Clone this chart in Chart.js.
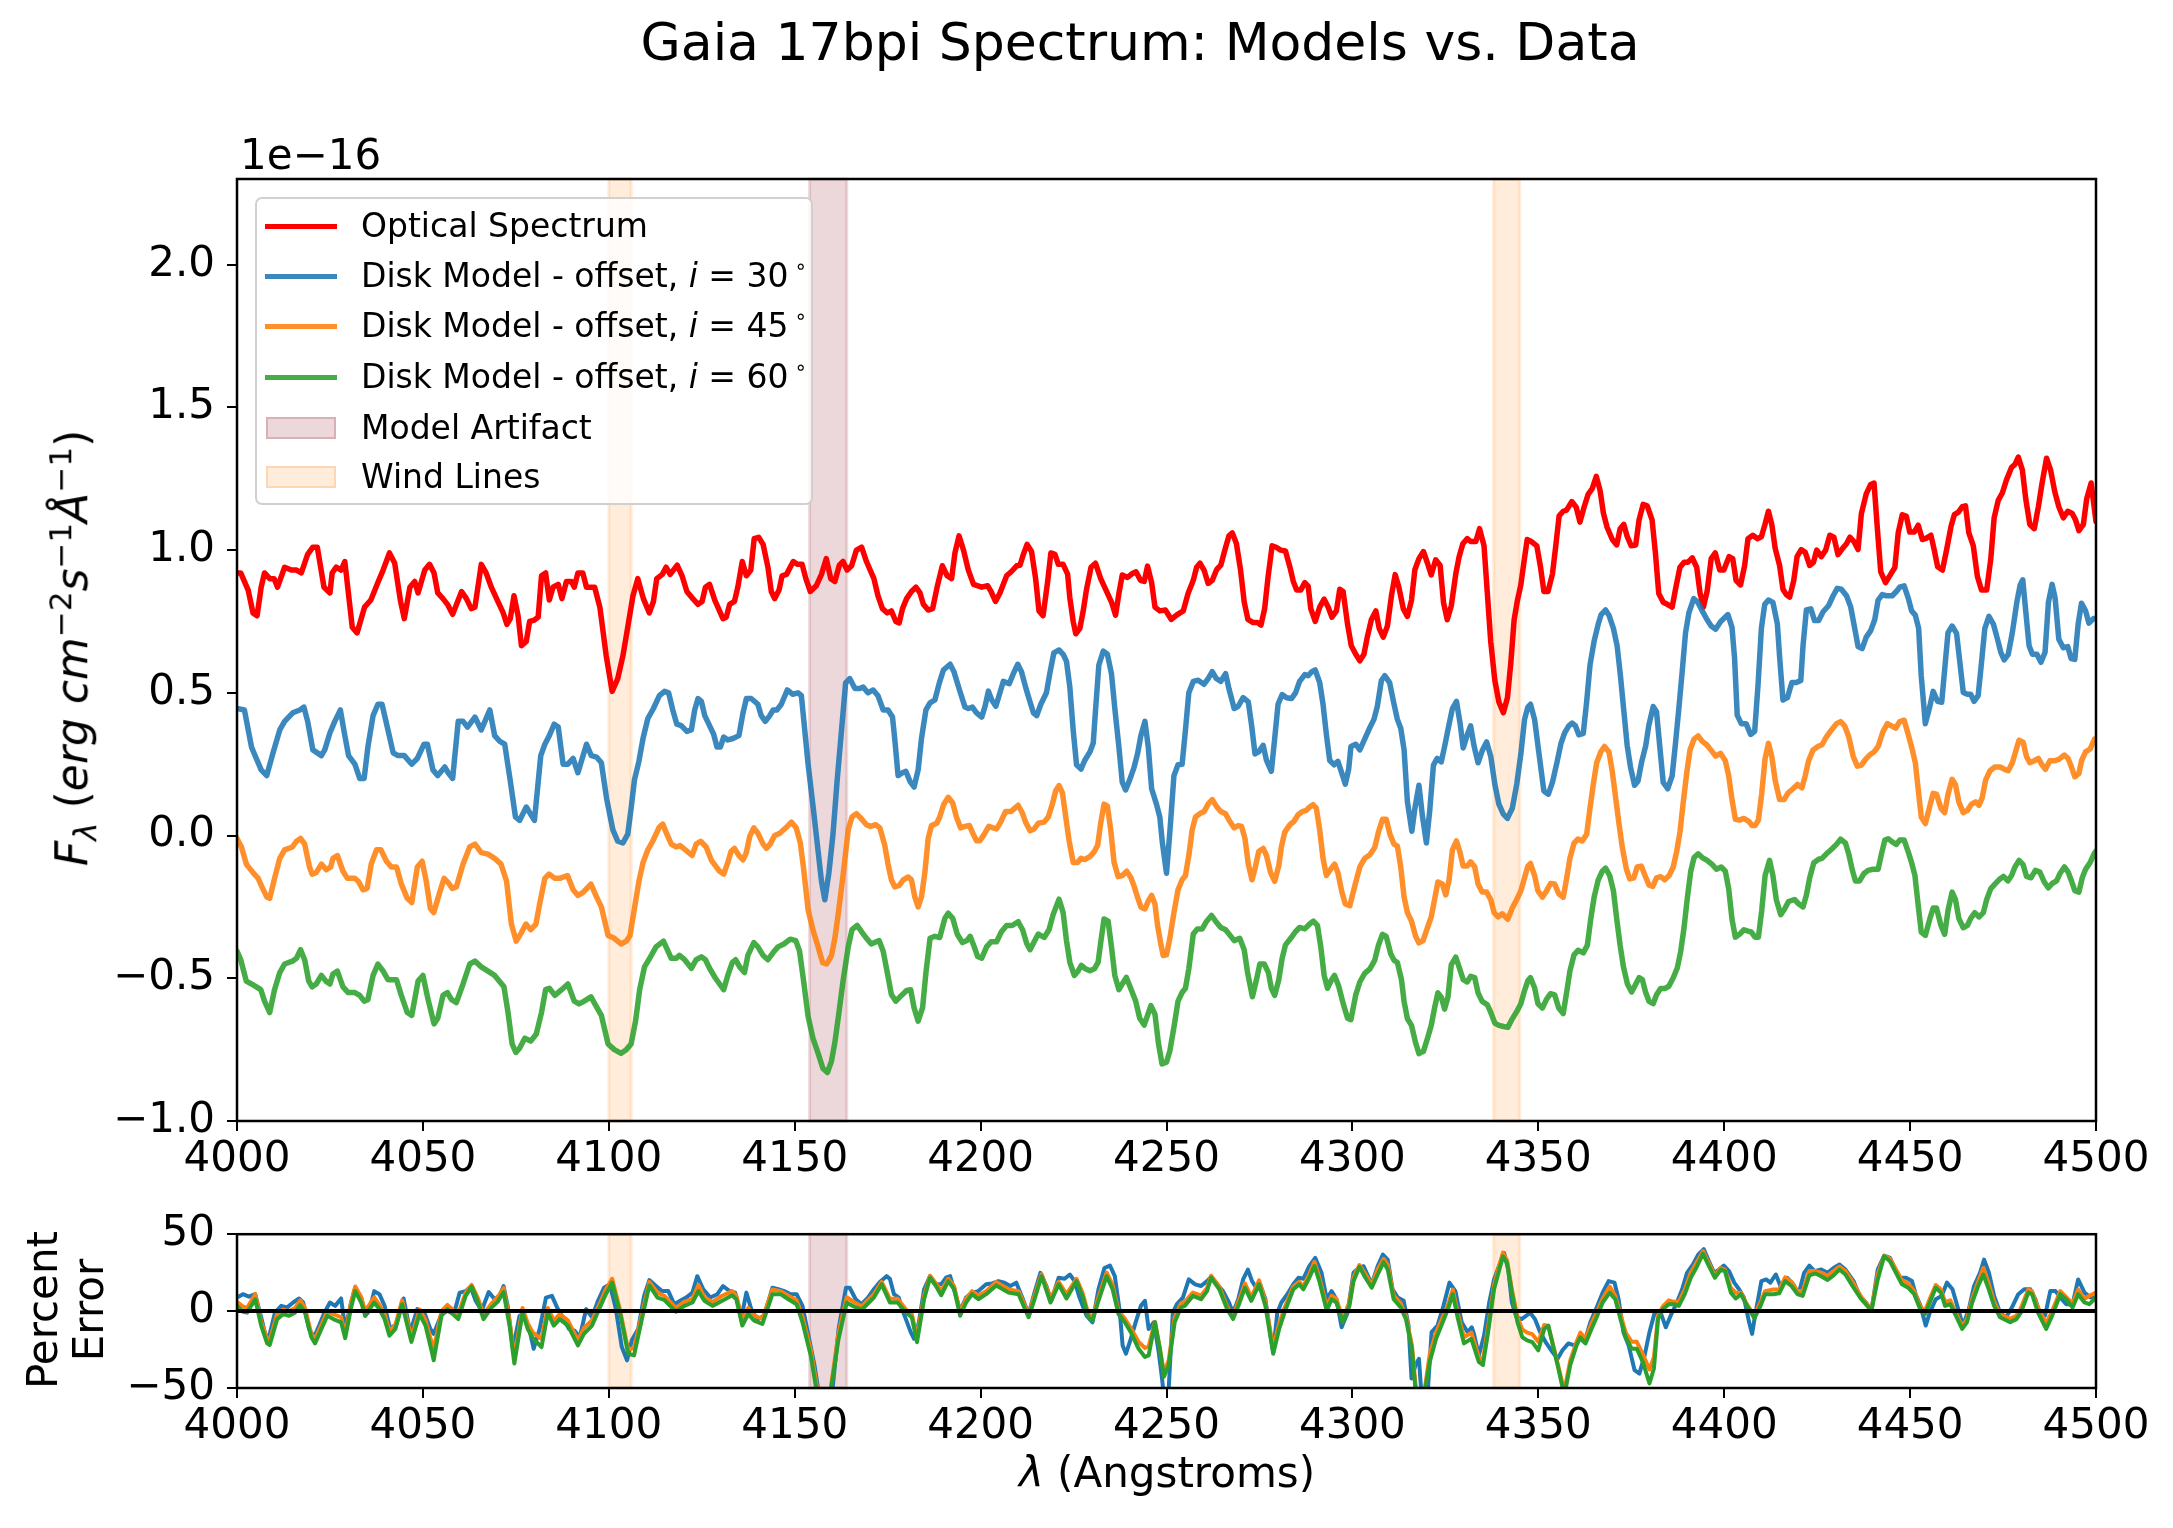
<!DOCTYPE html>
<html>
<head>
<meta charset="utf-8">
<script src="https://cdn.jsdelivr.net/npm/chart.js@4.4.0/dist/chart.umd.min.js"></script>
<style>
  body { margin: 0; background: #fff; font-family: "DejaVu Sans", sans-serif; }
  #wrap { position: relative; width: 2173px; height: 1528px; overflow: hidden; background: #fff; }
  canvas { position: absolute; left: 0; }
  .lbl { position: absolute; white-space: nowrap; color: #000; }
  #legend { position: absolute; left: 255px; top: 197px; width: 558px; height: 308px; box-sizing: border-box;
            border: 2px solid #d0d0d0; border-radius: 7px; background: rgba(255,255,255,0.8); font-size: 33px; }
  .row { position: absolute; left: 0; height: 40px; width: 100%; }
  .swl { position: absolute; left: 8px; width: 72px; height: 5px; top: 18px; }
  .swp { position: absolute; left: 9px; width: 70px; height: 22px; top: 9px; box-sizing: border-box; border-width: 2px; border-style: solid; }
  .txt { position: absolute; left: 104px; top: 0; line-height: 40px; }
  .deg { position: relative; top: -14px; font-size: 20px; margin-left: 6px; }
  .sp { font-size: 31px; }
</style>
</head>
<body>
<div id="wrap">
  <canvas id="fluxChart" width="2173" height="1191" style="top:0"></canvas>
  <canvas id="errChart" width="2173" height="261" style="top:1197px"></canvas>

  <div class="lbl" style="left:1140px;top:16px;font-size:52px;line-height:52px;transform:translateX(-50%)">Gaia 17bpi Spectrum: Models vs. Data</div>
  <div class="lbl" style="left:240px;top:134px;font-size:42px;line-height:42px">1e&minus;16</div>
  <div class="lbl" style="left:73px;top:648px;font-size:44px;line-height:44px;transform:translate(-50%,-50%) rotate(-90deg)">
    <i>F</i><sub class="sp"><i>&lambda;</i></sub> (<i>erg cm</i><sup class="sp">&minus;2</sup><i>s</i><sup class="sp">&minus;1</sup><i>&Aring;</i><sup class="sp">&minus;1</sup>)
  </div>
  <div class="lbl" style="left:66px;top:1310px;font-size:42px;line-height:46px;text-align:center;transform:translate(-50%,-50%) rotate(-90deg)">Percent<br>Error</div>
  <div class="lbl" style="left:1167px;top:1452px;font-size:42px;line-height:42px;transform:translateX(-50%)"><i>&lambda;</i> (Angstroms)</div>

  <div id="legend">
    <div class="row" style="top:7px"><div class="swl" style="background:#ff0000"></div><div class="txt">Optical Spectrum</div></div>
    <div class="row" style="top:57px"><div class="swl" style="background:rgba(31,119,180,0.88)"></div><div class="txt">Disk Model - offset, <i>i</i> = 30<span class="deg">&#8728;</span></div></div>
    <div class="row" style="top:107px"><div class="swl" style="background:rgba(255,127,14,0.88)"></div><div class="txt">Disk Model - offset, <i>i</i> = 45<span class="deg">&#8728;</span></div></div>
    <div class="row" style="top:158px"><div class="swl" style="background:rgba(44,160,44,0.88)"></div><div class="txt">Disk Model - offset, <i>i</i> = 60<span class="deg">&#8728;</span></div></div>
    <div class="row" style="top:209px"><div class="swp" style="background:rgba(150,40,50,0.18);border-color:rgba(150,40,50,0.22)"></div><div class="txt">Model Artifact</div></div>
    <div class="row" style="top:258px"><div class="swp" style="background:rgba(255,127,14,0.15);border-color:rgba(255,127,14,0.2)"></div><div class="txt">Wind Lines</div></div>
  </div>
</div>

<script>
// wavelength (Angstrom), flux (1e-16 erg cm^-2 s^-1 A^-1)
const opticalSpectrum = [
  [4000,.92],[4001,.92],[4003,.86],[4004.3,.78],[4005.4,.77],[4006.5,.87],[4007.4,.92],[4008.8,.90],[4010,.90],[4010.9,.87],
  [4012.8,.94],[4014.6,.93],[4016,.93],[4017.3,.92],[4019,.985],[4020.4,1.01],[4021.6,1.01],[4023.4,.87],[4025,.85],[4025.6,.92],
  [4026.7,.94],[4028,.93],[4029,.96],[4031,.73],[4032.3,.71],[4034.3,.80],[4036,.825],[4038,.89],[4039.3,.93],[4041,.99],
  [4042.4,.955],[4044,.82],[4045,.76],[4046.5,.87],[4047.8,.89],[4048.7,.85],[4050.5,.93],[4051.8,.95],[4053,.92],[4054,.85],
  [4055.4,.83],[4056.6,.81],[4058,.775],[4060.4,.855],[4061.7,.83],[4063,.795],[4064,.80],[4065.7,.95],[4067,.92],[4068.4,.87],
  [4070,.825],[4071.6,.78],[4072.6,.74],[4073.5,.76],[4074.5,.84],[4075.6,.77],[4076.5,.665],[4077.8,.68],[4078.7,.75],[4080,.755],
  [4081,.765],[4081.9,.91],[4083,.92],[4084,.825],[4085,.87],[4086.4,.88],[4087.4,.83],[4088.6,.89],[4090,.89],[4090.7,.87],
  [4091.7,.92],[4093,.92],[4094,.87],[4095.3,.87],[4096.2,.87],[4097.6,.80],[4099.3,.63],[4100.9,.505],[4102.4,.55],[4103.8,.63],
  [4105.1,.73],[4106.5,.84],[4107.8,.90],[4109.3,.83],[4110.9,.78],[4112,.82],[4112.9,.90],[4114.4,.915],[4115.4,.94],[4116.5,.915],
  [4118.4,.947],[4119.7,.91],[4121,.855],[4122.6,.83],[4124,.81],[4125.1,.82],[4126,.87],[4127.1,.88],[4128.5,.825],[4130.7,.76],
  [4131.6,.765],[4132.5,.81],[4133.8,.82],[4134.7,.87],[4135.9,.96],[4137,.91],[4138.2,.93],[4139.1,1.04],[4140.3,1.045],[4141.5,1.02],
  [4142.8,.94],[4143.7,.855],[4144.6,.83],[4145.8,.86],[4146.6,.91],[4147.8,.915],[4149.6,.96],[4150.7,.95],[4152,.95],[4153,.90],
  [4154.2,.855],[4155.8,.875],[4157.2,.915],[4158.5,.97],[4159.7,.90],[4160.8,.89],[4162,.947],[4163,.96],[4164.1,.93],[4165.3,.945],
  [4166.6,1.0],[4168,1.01],[4169.3,.96],[4171.3,.90],[4172.4,.84],[4173.6,.795],[4174.9,.78],[4176,.787],[4177.2,.75],[4178.1,.745],
  [4179,.795],[4180.1,.83],[4181.4,.855],[4182.6,.87],[4183.7,.85],[4184.6,.81],[4185.9,.79],[4187.1,.795],[4188.3,.87],[4189.7,.945],
  [4191,.91],[4192.2,.90],[4193.1,.99],[4194.2,1.05],[4195.4,1.0],[4196.7,.93],[4198.1,.88],[4200.3,.87],[4201.9,.875],[4202.8,.855],
  [4204,.82],[4205.2,.85],[4207,.91],[4208.3,.925],[4209.7,.945],[4210.6,.947],[4211.5,.985],[4212.5,1.02],[4213.7,.995],[4214.8,.90],
  [4215.7,.787],[4216.8,.77],[4218,.886],[4218.9,.99],[4220,.985],[4220.9,.95],[4222.2,.95],[4223.4,.916],[4224,.833],[4224.9,.75],
  [4225.6,.707],[4226.7,.726],[4227.6,.787],[4228.5,.863],[4229.7,.94],[4230.9,.954],[4232.3,.90],[4233.6,.863],[4235.2,.818],[4236.3,.772],
  [4237.2,.848],[4238.1,.913],[4239.5,.904],[4240.6,.916],[4241.8,.924],[4243,.894],[4244,.89],[4244.9,.944],[4246,.886],[4246.9,.80],
  [4248.2,.787],[4249.7,.79],[4251.3,.757],[4252.7,.772],[4254.5,.787],[4255.8,.848],[4257.2,.894],[4258.1,.94],[4259,.954],[4260.1,.93],
  [4261.2,.883],[4262.3,.894],[4263.5,.932],[4264.6,.947],[4265.7,1.0],[4266.8,1.05],[4267.7,1.06],[4268.8,1.023],[4269.9,.932],[4270.9,.818],
  [4271.9,.757],[4273.3,.746],[4274.5,.746],[4275.4,.737],[4276.4,.795],[4277.3,.904],[4278.4,1.015],[4279.5,1.01],[4280.7,1.0],[4282,.997],
  [4283.2,.94],[4284.1,.89],[4285,.86],[4286.1,.86],[4287.2,.886],[4288.1,.874],[4288.8,.795],[4290,.75],[4291.2,.80],[4292.4,.828],
  [4293.5,.80],[4294.5,.765],[4295.7,.787],[4296.6,.863],[4297.5,.855],[4298.7,.74],[4299.7,.665],[4300.9,.635],[4302,.612],[4303.1,.635],
  [4304,.695],[4305.1,.756],[4306.3,.787],[4307.2,.726],[4308.3,.695],[4309.4,.733],[4310.5,.84],[4311.5,.914],[4312.5,.87],[4313.7,.794],
  [4314.8,.768],[4315.9,.825],[4316.8,.931],[4317.9,.97],[4319.1,.995],[4320.2,.954],[4321.2,.913],[4322.4,.966],[4323.6,.946],[4324.5,.817],
  [4325.5,.756],[4326.6,.805],[4327.8,.916],[4328.7,.977],[4329.7,1.022],[4330.9,1.04],[4331.8,1.03],[4333.2,1.03],[4334.2,1.075],[4335.4,1.015],
  [4336.3,.848],[4337.2,.68],[4338.3,.544],[4339.4,.468],[4340.6,.43],[4341.7,.483],[4342.6,.604],[4343.5,.756],[4344.4,.825],[4345.3,.878],
  [4346.1,.954],[4347,1.037],[4348.1,1.03],[4349.6,1.015],[4350.6,.94],[4351.5,.855],[4352.6,.855],[4353.8,.916],[4354.7,1.015],[4355.6,1.12],
  [4356.7,1.136],[4357.6,1.14],[4359,1.17],[4360.2,1.15],[4361.2,1.098],[4362.3,1.15],[4363.4,1.195],[4364.5,1.215],[4365.6,1.258],[4366.6,1.21],
  [4367.5,1.13],[4368.5,1.08],[4369.9,1.037],[4371.1,1.018],[4372,1.075],[4373,1.09],[4373.9,1.048],[4375,1.015],[4376.2,1.018],[4377.1,1.106],
  [4378.2,1.16],[4379.3,1.155],[4380.6,1.106],[4381.5,.99],[4382.4,.848],[4383.6,.817],[4384.7,.81],[4386,.80],[4386.9,.863],[4388.1,.94],
  [4389.2,.957],[4390.2,.957],[4391.4,.973],[4392.6,.94],[4393.5,.85],[4394.4,.80],[4395.4,.855],[4396.5,.97],[4397.6,.99],[4398.8,.93],
  [4399.9,.93],[4401.3,.977],[4402.3,.97],[4403.2,.893],[4404.4,.878],[4405.5,.946],[4406.4,1.04],[4407.7,1.052],[4408.9,1.04],[4410,1.047],
  [4410.9,1.087],[4411.9,1.136],[4412.8,1.09],[4413.7,1.007],[4414.9,.946],[4415.8,.863],[4416.7,.844],[4417.6,.835],[4418.7,.893],[4419.6,.977],
  [4420.7,1.002],[4421.8,.992],[4423,.946],[4424,.957],[4424.9,1.0],[4426.1,.977],[4427.3,1.0],[4428.4,1.052],[4429.5,1.045],[4430.6,.984],
  [4431.9,1.007],[4432.9,1.022],[4433.8,1.045],[4434.9,1.03],[4436,1.002],[4436.9,1.128],[4438.2,1.197],[4439.4,1.23],[4440.3,1.235],[4441.2,1.075],
  [4442.1,.924],[4443.4,.886],[4444.8,.916],[4445.9,.939],[4446.8,1.06],[4447.9,1.124],[4449,1.118],[4449.9,1.063],[4451.1,1.063],[4452.2,1.087],
  [4453.3,1.037],[4454.4,1.042],[4455.6,1.052],[4456.5,1.0],[4457.4,.942],[4458.7,.93],[4459.8,1.0],[4461,1.083],[4461.9,1.124],[4463,1.133],
  [4464,1.152],[4464.9,1.155],[4465.8,1.06],[4467,1.015],[4468.1,.908],[4469.2,.86],[4470.6,.86],[4471.7,.969],[4472.6,1.113],[4473.7,1.174],
  [4474.8,1.2],[4475.9,1.245],[4477.3,1.29],[4478.2,1.30],[4479.1,1.326],[4480.2,1.28],[4481.1,1.18],[4482.2,1.09],[4483.4,1.075],[4484.5,1.152],
  [4485.5,1.235],[4486.7,1.322],[4487.8,1.28],[4488.9,1.205],[4490,1.152],[4491.2,1.113],[4492.4,1.136],[4493.6,1.128],[4494.5,1.106],[4495.4,1.068],
  [4496.6,1.09],[4497.5,1.18],[4498.7,1.235],[4499.8,1.12],[4500,1.10]
];

const diskModel30 = [
  [4000,.445],[4002,.44],[4003.9,.31],[4005.2,.27],[4006.5,.23],[4008,.21],[4009.7,.29],[4011.5,.37],[4012.8,.40],[4015,.43],
  [4016.9,.44],[4018,.45],[4019,.40],[4020.4,.30],[4022.7,.28],[4023.6,.30],[4025,.36],[4026.3,.40],[4027.8,.44],[4029,.35],
  [4030,.28],[4031.7,.25],[4033,.20],[4034.2,.20],[4035.2,.31],[4036.6,.42],[4037.9,.46],[4039,.46],[4040.6,.37],[4042,.29],
  [4043.3,.28],[4045,.28],[4047,.25],[4048.5,.27],[4050.3,.32],[4051.2,.32],[4052.7,.23],[4054,.21],[4055.9,.24],[4056.8,.22],
  [4058,.20],[4059.5,.40],[4060.8,.40],[4062,.38],[4064,.415],[4065.7,.37],[4068,.44],[4069.3,.35],[4070.7,.33],[4072,.32],
  [4073.4,.20],[4074.9,.065],[4076,.053],[4077.8,.10],[4080,.053],[4081.7,.28],[4082.8,.32],[4084,.35],[4085.3,.39],[4086.4,.38],
  [4087.7,.25],[4089,.25],[4090.4,.27],[4091.7,.22],[4094,.32],[4095.3,.28],[4096.7,.275],[4098,.255],[4099.4,.13],[4101.1,.02],
  [4102.4,-.02],[4103.8,-.026],[4105.1,.005],[4106,.095],[4106.9,.195],[4108.1,.26],[4109.2,.34],[4110.5,.41],[4112,.445],[4113.6,.49],
  [4115,.505],[4116.1,.50],[4117.2,.44],[4118.3,.39],[4119.5,.385],[4121,.365],[4122.2,.37],[4123.1,.44],[4124,.48],[4124.9,.47],
  [4125.8,.42],[4127.1,.385],[4128.2,.355],[4129.1,.31],[4130,.31],[4130.9,.345],[4132,.335],[4133.4,.34],[4135,.35],[4136.1,.43],
  [4137,.48],[4138.3,.48],[4140.1,.46],[4141,.42],[4142.1,.40],[4143.3,.42],[4144.2,.44],[4145.2,.44],[4146.4,.46],[4148,.51],
  [4149.4,.495],[4150.9,.50],[4151.8,.49],[4152.7,.37],[4153.6,.25],[4155,.095],[4156.3,-.055],[4157.2,-.16],[4158.1,-.225],[4159.2,-.13],
  [4160.3,.005],[4161.4,.19],[4162.6,.37],[4163.7,.535],[4164.8,.55],[4166.2,.515],[4167.5,.515],[4168.4,.52],[4169.7,.50],[4171.1,.51],
  [4172.4,.49],[4173.8,.44],[4175.1,.44],[4176.3,.415],[4176.9,.34],[4177.8,.21],[4179,.22],[4179.9,.225],[4181,.19],[4182.1,.17],
  [4183.2,.23],[4184.1,.34],[4185.3,.44],[4186.4,.465],[4187.7,.475],[4188.9,.535],[4190,.58],[4191.8,.60],[4192.8,.575],[4194.2,.515],
  [4195.8,.45],[4196.7,.445],[4197.8,.45],[4198.9,.43],[4200.3,.415],[4201.2,.453],[4202.1,.506],[4203,.475],[4204.1,.453],[4205.2,.50],
  [4206.1,.54],[4207.7,.532],[4208.8,.567],[4210,.60],[4211,.574],[4212.1,.52],[4213.3,.468],[4214.2,.43],[4215.1,.42],[4216.2,.46],
  [4217.7,.50],[4218.6,.567],[4219.7,.64],[4221.1,.65],[4222.2,.635],[4223.1,.61],[4224,.52],[4224.9,.37],[4225.8,.248],[4227,.233],
  [4228,.263],[4229.4,.293],[4230.3,.324],[4230.9,.437],[4231.8,.597],[4233,.646],[4234.1,.635],[4235.2,.567],[4236.1,.445],[4237.2,.31],
  [4238.1,.187],[4239,.16],[4240.1,.195],[4241.3,.24],[4242.2,.286],[4243.1,.35],[4244.2,.40],[4245.1,.31],[4246,.164],[4247.3,.11],
  [4248.2,.065],[4248.9,-.026],[4250,-.132],[4250.9,.012],[4252,.21],[4253.1,.248],[4254.2,.25],[4255.1,.37],[4256,.50],[4257.2,.54],
  [4258.5,.544],[4260.1,.53],[4261.2,.55],[4262.3,.574],[4263.4,.55],[4264.6,.54],[4265.9,.567],[4266.8,.514],[4268.2,.445],[4269.3,.453],
  [4270.6,.483],[4272,.468],[4272.9,.385],[4273.8,.286],[4274.8,.293],[4276,.316],[4276.9,.263],[4278.2,.225],[4279.1,.34],[4280,.46],
  [4281.1,.494],[4282.3,.483],[4283.6,.48],[4284.7,.50],[4285.8,.54],[4287.2,.564],[4288.1,.56],[4289.1,.574],[4290,.58],[4291.2,.536],
  [4292.1,.46],[4293,.354],[4293.9,.263],[4295.1,.248],[4296.1,.26],[4297,.225],[4298.1,.18],[4299,.233],[4299.6,.312],[4300.9,.32],
  [4302,.30],[4303.3,.338],[4304.5,.373],[4305.8,.407],[4306.7,.452],[4307.8,.543],[4308.7,.56],[4310,.536],[4311.2,.46],[4312.1,.407],
  [4313,.376],[4313.9,.30],[4314.8,.118],[4316,.015],[4316.8,.095],[4317.9,.176],[4318.8,.072],[4319.9,-.026],[4320.8,.088],[4321.8,.247],
  [4322.8,.27],[4323.9,.258],[4324.8,.312],[4326,.39],[4326.9,.445],[4328,.47],[4329,.39],[4329.8,.307],[4330.9,.353],[4331.8,.384],
  [4332.7,.315],[4333.8,.255],[4335,.30],[4336.1,.328],[4337.2,.278],[4338.3,.18],[4339.4,.11],[4340.6,.075],[4341.7,.06],[4343,.095],
  [4344.2,.18],[4345.3,.285],[4346.3,.407],[4347.2,.45],[4347.9,.46],[4349,.407],[4350.2,.285],[4351.5,.156],[4352.7,.145],[4353.8,.186],
  [4355,.255],[4356.1,.323],[4357.1,.36],[4358.2,.384],[4359.1,.394],[4360,.384],[4360.9,.353],[4362.1,.358],[4363,.468],[4363.9,.597],
  [4365,.68],[4366.1,.74],[4366.9,.774],[4368.1,.79],[4369,.772],[4370.2,.726],[4371.2,.665],[4372.1,.559],[4373,.437],[4373.9,.316],
  [4374.8,.24],[4375.9,.176],[4376.8,.19],[4377.8,.258],[4378.9,.315],[4379.7,.384],[4380.9,.452],[4381.8,.434],[4382.7,.308],[4383.6,.186],
  [4384.8,.164],[4386,.209],[4386.9,.323],[4387.8,.445],[4388.7,.574],[4389.6,.71],[4390.5,.78],[4391.8,.83],[4392.9,.817],[4394.1,.787],
  [4395.4,.756],[4396.5,.734],[4397.7,.723],[4399,.749],[4401,.774],[4402.1,.729],[4402.8,.62],[4403.5,.422],[4404.6,.392],[4405.9,.392],
  [4407.1,.354],[4408.2,.365],[4409.1,.528],[4410,.726],[4410.9,.81],[4411.9,.825],[4413.1,.817],[4414.3,.741],[4414.9,.627],[4415.8,.475],
  [4417,.483],[4418.2,.536],[4419.4,.536],[4420.6,.543],[4421.2,.665],[4422.1,.79],[4423.3,.794],[4424.3,.753],[4425.4,.753],[4426.6,.784],
  [4428.1,.806],[4429.3,.84],[4430.4,.866],[4431.5,.863],[4432.9,.84],[4434,.802],[4435.1,.726],[4436,.662],[4437.1,.655],[4438.2,.695],
  [4439.4,.718],[4440.5,.757],[4441.4,.825],[4442.5,.844],[4443.6,.84],[4445.2,.84],[4446.3,.855],[4447.2,.87],[4448.4,.875],[4449.5,.832],
  [4450.4,.787],[4451.4,.772],[4452.3,.726],[4453,.559],[4454.1,.392],[4455.3,.452],[4456.2,.505],[4457.4,.47],[4458.5,.467],[4459.3,.582],
  [4460.2,.711],[4461.3,.734],[4462.5,.708],[4463.4,.605],[4464.3,.501],[4465.4,.495],[4466.3,.495],[4467.2,.47],[4468.3,.49],[4469.2,.605],
  [4470.1,.726],[4471.2,.768],[4472.4,.741],[4473.5,.688],[4474.4,.642],[4475.3,.615],[4476.4,.635],[4477.5,.711],[4478.7,.817],[4479.6,.878],
  [4480.3,.896],[4481.1,.787],[4482,.665],[4482.9,.635],[4484.1,.635],[4485.2,.607],[4486.3,.642],[4487.2,.817],[4488.2,.88],[4489,.832],
  [4490,.688],[4491.2,.658],[4492.4,.662],[4493.3,.62],[4494.3,.617],[4495.2,.741],[4496.1,.814],[4497.2,.787],[4498.1,.744],[4499.3,.76],
  [4500,.76]
];

const diskModel45 = [
  [4000,-.01],[4001.2,-.04],[4002.5,-.10],[4004.3,-.13],[4005.7,-.15],[4006.7,-.18],[4008,-.215],[4008.8,-.22],[4010.1,-.15],[4011.5,-.08],
  [4012.8,-.05],[4014.9,-.04],[4016,-.02],[4017.1,-.01],[4018.2,-.03],[4019.5,-.11],[4020.2,-.135],[4021.3,-.13],[4022.7,-.10],[4024,-.12],
  [4025.2,-.11],[4025.8,-.08],[4027,-.07],[4028.5,-.125],[4029.7,-.15],[4031.7,-.15],[4032.6,-.16],[4033.9,-.19],[4035,-.185],[4036.1,-.10],
  [4037.5,-.05],[4038.7,-.05],[4040.2,-.09],[4041.5,-.11],[4042.9,-.11],[4044.2,-.17],[4045.8,-.22],[4047,-.235],[4048.5,-.11],[4049.8,-.09],
  [4050.9,-.16],[4052,-.255],[4052.9,-.27],[4054.5,-.20],[4055.7,-.15],[4056.8,-.165],[4057.9,-.185],[4059,-.18],[4060.8,-.10],[4062.6,-.04],
  [4064,-.03],[4065.7,-.06],[4067.5,-.065],[4069.3,-.08],[4071,-.10],[4072.5,-.16],[4073.8,-.31],[4075.1,-.37],[4076.5,-.34],[4077.7,-.31],
  [4079,-.33],[4080.4,-.31],[4081.4,-.24],[4082.8,-.15],[4083.9,-.135],[4085.5,-.15],[4086.8,-.15],[4088.9,-.14],[4090.4,-.19],[4091.7,-.21],
  [4093,-.20],[4095.2,-.17],[4096.7,-.215],[4098,-.25],[4099.8,-.35],[4101.5,-.36],[4103.3,-.38],[4104.7,-.37],[4105.7,-.35],[4106.9,-.255],
  [4108.1,-.16],[4109.2,-.095],[4110.5,-.05],[4111.8,-.02],[4113.6,.03],[4114.5,.04],[4115.4,.012],[4116.8,-.03],[4118.1,-.04],[4119.2,-.035],
  [4120.6,-.05],[4122.4,-.07],[4123.5,-.03],[4124.7,-.02],[4126.2,-.04],[4127.6,-.087],[4128.9,-.11],[4129.8,-.125],[4130.9,-.135],[4132,-.095],
  [4132.9,-.055],[4133.8,-.045],[4135,-.07],[4136.1,-.085],[4137,-.06],[4137.9,-.003],[4139,.027],[4140.1,.008],[4141.5,-.03],[4142.4,-.045],
  [4143.4,-.03],[4144.6,0],[4146,.008],[4147.6,.027],[4149.1,.047],[4150.4,.027],[4151.5,-.025],[4152.4,-.117],[4153.6,-.26],[4154.9,-.33],
  [4156.3,-.39],[4157.5,-.445],[4158.6,-.45],[4159.9,-.42],[4160.8,-.36],[4161.7,-.275],[4163,-.14],[4164.4,.02],[4165.4,.065],[4166.6,.077],
  [4168,.058],[4169.3,.038],[4170.4,.032],[4171.8,.038],[4172.9,.027],[4174.2,-.033],[4175.1,-.10],[4176,-.155],[4176.9,-.18],[4178.1,-.175],
  [4179.2,-.155],[4180.5,-.145],[4181.4,-.155],[4182.3,-.215],[4183.2,-.25],[4184.1,-.215],[4185,-.13],[4185.9,-.01],[4186.8,.035],[4188.2,.043],
  [4189,.065],[4190.1,.11],[4191.3,.134],[4192.5,.114],[4193.5,.065],[4194.6,.027],[4195.8,.032],[4197,.035],[4198,.005],[4198.9,-.018],
  [4199.8,-.018],[4201,.005],[4202.2,.032],[4203.4,.027],[4204.3,.023],[4205.5,.05],[4206.7,.084],[4208.2,.084],[4209.2,.096],[4210.1,.106],
  [4211.2,.08],[4212.1,.047],[4213.3,.017],[4214.4,.023],[4215.5,.043],[4217.1,.047],[4218.2,.065],[4219.3,.11],[4220.2,.157],[4221.1,.175],
  [4222,.15],[4222.9,.065],[4223.8,-.018],[4224.9,-.094],[4226.1,-.094],[4227,-.08],[4228,-.084],[4229.4,-.074],[4230.6,-.056],[4231.5,-.033],
  [4232.3,.043],[4233.2,.11],[4234.1,.103],[4235,.02],[4235.9,-.094],[4237,-.144],[4238.1,-.14],[4239.3,-.125],[4240.4,-.147],[4241.3,-.178],
  [4242.2,-.216],[4243.1,-.25],[4244.2,-.257],[4245.1,-.23],[4246,-.21],[4246.9,-.24],[4247.6,-.315],[4248.4,-.375],[4249.1,-.42],[4250,-.418],
  [4250.9,-.36],[4252,-.27],[4253.1,-.19],[4254.2,-.155],[4255.1,-.14],[4256,-.07],[4256.9,.02],[4257.8,.065],[4259,.077],[4260.1,.084],
  [4261.2,.11],[4262.3,.126],[4263.4,.103],[4264.6,.084],[4265.9,.076],[4267,.05],[4268.2,.027],[4269.3,.035],[4270.2,.032],[4271.1,-.01],
  [4272,-.10],[4273,-.155],[4273.9,-.11],[4274.8,-.056],[4276,-.045],[4276.9,-.07],[4278,-.13],[4279.1,-.16],[4280.2,-.106],[4280.9,-.04],
  [4281.8,.012],[4283.2,.038],[4284.3,.05],[4285.4,.073],[4286.5,.084],[4287.6,.088],[4288.5,.10],[4289.4,.108],[4290.3,.096],[4291.2,.02],
  [4292.1,-.08],[4293,-.14],[4294.2,-.117],[4295.2,-.10],[4296.1,-.13],[4297.2,-.20],[4298.1,-.24],[4299.3,-.246],[4300.9,-.163],[4302,-.11],
  [4303.3,-.08],[4304.7,-.067],[4306,-.042],[4307,.012],[4308.1,.057],[4309.1,.057],[4310.1,.004],[4311.2,-.03],[4312.1,-.037],[4313,-.11],
  [4313.9,-.216],[4314.8,-.27],[4315.9,-.30],[4317,-.353],[4317.9,-.376],[4319,-.368],[4320,-.33],[4321.2,-.285],[4322.1,-.224],[4323,-.163],
  [4324.2,-.17],[4325.1,-.208],[4326,-.155],[4326.9,-.05],[4328,-.019],[4328.9,-.057],[4329.8,-.107],[4330.9,-.107],[4331.8,-.092],[4332.9,-.11],
  [4333.8,-.17],[4334.9,-.198],[4336.1,-.198],[4337.2,-.224],[4338.1,-.27],[4339.2,-.285],[4340.3,-.274],[4341.8,-.293],[4343,-.254],[4344.2,-.224],
  [4345.3,-.194],[4346.3,-.148],[4347.2,-.107],[4347.9,-.098],[4349,-.14],[4349.9,-.194],[4351.1,-.216],[4352.2,-.194],[4353.3,-.168],[4354.4,-.17],
  [4355.5,-.204],[4356.7,-.216],[4357.6,-.152],[4358.5,-.08],[4359.6,-.027],[4360.7,-.012],[4361.8,-.019],[4363,.004],[4363.9,.095],[4364.8,.18],
  [4365.7,.255],[4366.8,.293],[4367.8,.312],[4369,.293],[4369.9,.224],[4370.8,.133],[4371.7,.042],[4372.6,-.042],[4373.7,-.118],[4374.6,-.152],
  [4375.7,-.148],[4376.6,-.11],[4377.7,-.107],[4378.7,-.14],[4379.8,-.174],[4380.8,-.178],[4381.8,-.148],[4382.9,-.144],[4384,-.155],[4385.2,-.14],
  [4386.3,-.11],[4387.2,-.057],[4388.1,.012],[4389,.118],[4389.9,.217],[4390.8,.30],[4391.9,.338],[4393,.349],[4394.1,.33],[4395.3,.318],
  [4396.4,.30],[4397.7,.278],[4399,.288],[4400.3,.262],[4401.2,.21],[4402.1,.126],[4403,.057],[4404.1,.054],[4405.3,.06],[4406.6,.05],
  [4407.5,.035],[4408.3,.035],[4409.2,.054],[4410.1,.148],[4411,.27],[4411.9,.323],[4412.8,.277],[4413.7,.194],[4414.9,.126],[4416.1,.126],
  [4417.1,.148],[4418.5,.164],[4419.7,.179],[4420.9,.167],[4421.8,.21],[4422.7,.262],[4423.9,.30],[4425.2,.312],[4426.3,.318],[4427.5,.346],
  [4428.8,.369],[4430.2,.392],[4431.3,.399],[4432.4,.384],[4433.5,.346],[4434.7,.277],[4435.8,.243],[4436.9,.247],[4438,.267],[4439.1,.282],
  [4440.3,.293],[4441.4,.312],[4442.7,.364],[4443.9,.392],[4445,.384],[4446.1,.376],[4447.2,.399],[4448.4,.404],[4449.5,.354],[4450.6,.30],
  [4451.4,.255],[4452.3,.148],[4453,.065],[4454.1,.042],[4455.3,.103],[4456.2,.148],[4457.1,.145],[4458.3,.095],[4459.3,.08],[4460.2,.145],
  [4461.3,.197],[4462.2,.179],[4463.1,.118],[4464.3,.08],[4465.4,.088],[4466.5,.11],[4467.6,.118],[4468.5,.106],[4469.4,.133],[4470.3,.194],
  [4471.5,.227],[4472.8,.24],[4474.2,.24],[4475.4,.232],[4476.4,.227],[4477.5,.255],[4478.5,.30],[4479.3,.334],[4480.4,.327],[4481.3,.277],
  [4482.2,.255],[4483.4,.262],[4484.5,.27],[4485.5,.247],[4486.4,.232],[4487.6,.262],[4488.8,.262],[4490,.267],[4491.5,.282],[4492.5,.27],
  [4493.4,.24],[4494.3,.206],[4495.4,.217],[4496.1,.262],[4497.2,.293],[4498.4,.303],[4499.6,.338],[4500,.34]
];

const diskModel60 = [
  [4000,-.405],[4001,-.435],[4002.5,-.51],[4003.9,-.52],[4005.2,-.53],[4006.4,-.54],[4007.4,-.58],[4008.8,-.62],[4010.1,-.54],[4011.5,-.48],
  [4012.8,-.45],[4014.9,-.44],[4016,-.43],[4017.1,-.40],[4018.2,-.435],[4019.3,-.51],[4020.2,-.53],[4021.3,-.52],[4022.7,-.49],[4023.9,-.51],
  [4025,-.52],[4025.8,-.485],[4027,-.475],[4028.5,-.53],[4029.9,-.55],[4031.7,-.55],[4033,-.56],[4034.2,-.58],[4035.2,-.575],[4036.6,-.49],
  [4037.9,-.45],[4039.3,-.475],[4040.6,-.505],[4042.9,-.505],[4044.2,-.56],[4045.8,-.62],[4047,-.63],[4048.7,-.51],[4050,-.49],[4051.4,-.575],
  [4053,-.66],[4054,-.64],[4055.4,-.56],[4056.6,-.55],[4057.7,-.575],[4059,-.585],[4060.8,-.52],[4062.6,-.45],[4064,-.44],[4065.7,-.46],
  [4067.5,-.475],[4069.3,-.49],[4071.8,-.53],[4072.9,-.62],[4074,-.73],[4075,-.76],[4076,-.745],[4077.4,-.71],[4079,-.72],[4080.5,-.695],
  [4081.9,-.62],[4083,-.54],[4084,-.535],[4085.5,-.56],[4087.3,-.54],[4089,-.52],[4090.7,-.58],[4092,-.59],[4093.4,-.58],[4095.2,-.565],
  [4096.7,-.60],[4098,-.63],[4099.8,-.73],[4101.5,-.75],[4103.3,-.763],[4104.7,-.75],[4106,-.73],[4107.2,-.65],[4108.3,-.54],[4109.6,-.46],
  [4111,-.43],[4112.7,-.39],[4114.7,-.37],[4115.4,-.39],[4116.8,-.43],[4118.1,-.43],[4119,-.42],[4120.4,-.435],[4122.2,-.465],[4123.5,-.435],
  [4124.9,-.425],[4126,-.435],[4127.1,-.465],[4128.7,-.50],[4129.8,-.52],[4130.9,-.54],[4132,-.49],[4133.2,-.445],[4134.1,-.435],[4135.2,-.46],
  [4136.5,-.48],[4137.4,-.42],[4139,-.375],[4140.1,-.39],[4141.5,-.42],[4142.8,-.435],[4144.2,-.41],[4145.5,-.39],[4147.1,-.38],[4148.8,-.363],
  [4150.3,-.368],[4151.3,-.405],[4152.4,-.51],[4153.6,-.634],[4154.9,-.71],[4156.3,-.763],[4157.6,-.816],[4158.8,-.83],[4159.9,-.79],[4160.8,-.725],
  [4161.9,-.62],[4163,-.51],[4164.4,-.39],[4165.4,-.33],[4166.8,-.315],[4168,-.337],[4169.3,-.36],[4170.6,-.38],[4172.7,-.368],[4173.8,-.405],
  [4174.9,-.48],[4176,-.557],[4177.2,-.58],[4178.7,-.56],[4180.1,-.543],[4181.2,-.54],[4182.1,-.603],[4183.2,-.65],[4184.4,-.603],[4185.3,-.48],
  [4186.4,-.36],[4187.7,-.353],[4189,-.357],[4190.4,-.29],[4191.3,-.272],[4192.5,-.29],[4193.7,-.345],[4195.1,-.375],[4196.3,-.368],[4197.2,-.353],
  [4198.3,-.39],[4199.2,-.424],[4200.3,-.43],[4201.6,-.39],[4202.8,-.372],[4204.3,-.372],[4205.6,-.337],[4207,-.315],[4208.5,-.315],[4210.1,-.302],
  [4211.3,-.33],[4212.4,-.378],[4213.3,-.40],[4214.4,-.372],[4215.5,-.345],[4217.1,-.357],[4218.4,-.33],[4219.5,-.277],[4221.1,-.223],[4222.2,-.27],
  [4223.1,-.368],[4224,-.444],[4225.2,-.49],[4226.2,-.475],[4227.1,-.455],[4228.2,-.467],[4229.4,-.474],[4230.6,-.467],[4231.6,-.444],[4232.3,-.375],
  [4233.2,-.292],[4234.3,-.30],[4235.2,-.39],[4236.1,-.49],[4237.2,-.54],[4238.1,-.52],[4239.2,-.497],[4240.6,-.543],[4241.7,-.58],[4242.8,-.64],
  [4244,-.664],[4244.9,-.63],[4245.8,-.596],[4246.9,-.626],[4247.8,-.725],[4248.8,-.80],[4250,-.794],[4250.9,-.755],[4252.1,-.664],[4253.1,-.58],
  [4254.2,-.55],[4255.1,-.535],[4256,-.467],[4257.2,-.345],[4258.3,-.327],[4259.6,-.327],[4260.8,-.30],[4262.1,-.28],[4263.2,-.30],[4264.6,-.322],
  [4265.9,-.33],[4267,-.348],[4268.2,-.368],[4269.7,-.36],[4270.9,-.40],[4271.8,-.48],[4273.1,-.565],[4274.2,-.505],[4275.1,-.45],[4276.3,-.45],
  [4277.4,-.48],[4278.2,-.535],[4279.1,-.56],[4280.2,-.505],[4281.1,-.43],[4282,-.383],[4283.4,-.36],[4284.7,-.337],[4285.8,-.322],[4287.2,-.327],
  [4288.5,-.31],[4289.5,-.30],[4290.6,-.315],[4291.5,-.39],[4292.4,-.49],[4293.3,-.535],[4294.4,-.505],[4295.2,-.49],[4296.3,-.527],[4297.5,-.588],
  [4298.7,-.64],[4299.6,-.645],[4300.9,-.558],[4302,-.513],[4303.3,-.483],[4304.7,-.467],[4306,-.437],[4307,-.384],[4308.1,-.346],[4309.1,-.353],
  [4310.3,-.414],[4311.2,-.437],[4312.1,-.445],[4313.2,-.505],[4313.9,-.581],[4314.8,-.642],[4315.9,-.665],[4317,-.726],[4317.9,-.764],[4319.1,-.756],
  [4320.2,-.71],[4321.2,-.665],[4322.1,-.604],[4323,-.551],[4323.9,-.566],[4324.8,-.608],[4325.7,-.566],[4326.6,-.452],[4327.8,-.426],[4329,-.472],
  [4329.8,-.505],[4330.9,-.513],[4331.8,-.493],[4332.9,-.498],[4333.8,-.551],[4334.9,-.581],[4336.3,-.593],[4337.2,-.619],[4338.3,-.657],[4339.4,-.665],
  [4340.6,-.669],[4341.8,-.672],[4343,-.642],[4344.4,-.612],[4345.3,-.589],[4346.3,-.543],[4347.2,-.508],[4347.9,-.498],[4349,-.533],[4349.9,-.589],
  [4351.1,-.604],[4352.2,-.574],[4353.3,-.554],[4354.4,-.558],[4355.5,-.604],[4356.7,-.624],[4357.6,-.551],[4358.5,-.475],[4359.6,-.418],[4360.7,-.402],
  [4362.1,-.411],[4363.2,-.384],[4364.1,-.293],[4365,-.217],[4366.1,-.156],[4367.2,-.125],[4368.1,-.114],[4369.2,-.14],[4370.2,-.193],[4371.1,-.293],
  [4372,-.384],[4372.9,-.46],[4374,-.521],[4375.1,-.548],[4376.2,-.521],[4377.1,-.498],[4378,-.505],[4378.9,-.551],[4379.8,-.581],[4380.9,-.589],
  [4381.8,-.558],[4382.9,-.536],[4384,-.536],[4385.1,-.528],[4386.3,-.498],[4387.4,-.463],[4388.3,-.406],[4389.2,-.323],[4390.1,-.217],[4391,-.125],
  [4391.9,-.077],[4393,-.064],[4394.1,-.077],[4395.4,-.087],[4396.8,-.102],[4397.9,-.118],[4399.2,-.11],[4400.3,-.125],[4401.2,-.186],[4402.1,-.293],
  [4403,-.356],[4404.1,-.346],[4405.3,-.33],[4406.4,-.335],[4407.3,-.338],[4408.3,-.356],[4409.2,-.356],[4410.1,-.262],[4411,-.14],[4412.2,-.087],
  [4413.1,-.14],[4414,-.224],[4415.2,-.277],[4416.2,-.258],[4417.3,-.231],[4418.9,-.224],[4420,-.239],[4421.2,-.25],[4422.1,-.209],[4423,-.148],
  [4424.1,-.095],[4425.4,-.083],[4426.3,-.08],[4427.5,-.064],[4428.8,-.049],[4430.2,-.031],[4431.3,-.013],[4432.6,-.026],[4433.5,-.064],[4434.4,-.118],
  [4435.3,-.159],[4436.4,-.159],[4437.6,-.133],[4438.7,-.122],[4440,-.118],[4441.4,-.118],[4442.3,-.064],[4443.2,-.016],[4444.1,-.011],[4445.2,-.022],
  [4446.3,-.031],[4447.2,-.016],[4448.4,-.016],[4449.5,-.057],[4450.4,-.095],[4451.3,-.14],[4452.2,-.247],[4453,-.338],[4454.1,-.35],[4455.3,-.292],
  [4456.2,-.254],[4457.1,-.254],[4458.3,-.315],[4459.3,-.346],[4460.2,-.262],[4461.3,-.198],[4462.2,-.224],[4463.1,-.29],[4464.3,-.323],[4465.4,-.315],
  [4466.3,-.29],[4467.4,-.27],[4468.5,-.285],[4469.7,-.27],[4470.6,-.224],[4471.7,-.186],[4472.8,-.17],[4473.9,-.155],[4475.1,-.143],[4476.3,-.159],
  [4477.3,-.14],[4478.2,-.11],[4479.3,-.087],[4480.4,-.102],[4481.3,-.143],[4482.5,-.148],[4483.7,-.122],[4484.9,-.128],[4486.1,-.163],[4487.2,-.183],
  [4488.2,-.168],[4489.4,-.159],[4490.3,-.133],[4491.5,-.11],[4492.5,-.128],[4493.4,-.159],[4494.3,-.193],[4495.4,-.198],[4496.3,-.148],[4497.2,-.118],
  [4498.4,-.095],[4499.6,-.061],[4500,-.055]
];

// percent error of each disk model against the optical spectrum
const percentError30 = [
  [4000,8.8],[4001.6,11],[4003.2,9.4],[4004.9,11],[4006.5,-4],[4007.6,-15],[4008.6,-17],[4010.2,-1],[4011.9,3.4],[4013.5,2.4],
  [4015.1,5.6],[4016.7,8.2],[4017.8,5.6],[4019.4,-11.6],[4020.7,-17],[4022.1,-9.4],[4023.5,-1],[4025,5.6],[4026.4,3.4],[4028,8.2],
  [4029.1,-11.6],[4030.7,5.6],[4031.8,15.2],[4033.4,8.8],[4034.5,-3],[4035.6,.2],[4036.9,13],[4038.3,11],[4039.7,3.4],[4041.2,-11.6],
  [4042.9,-8.4],[4044.8,8.2],[4046.6,-13.7],[4048.5,1.3],[4050.4,-1],[4052,-11.6],[4052.9,-14.8],[4055,-2],[4056.6,.2],[4058.3,-2],
  [4059.9,12],[4061.5,13],[4062.8,15.9],[4064.2,6.7],[4065.8,.2],[4067.7,12.4],[4069.3,7.7],[4070.7,10.3],[4071.7,16.3],[4072.8,3.4],
  [4074.2,-24.5],[4076,-3],[4077.5,-5.2],[4078.7,-12.7],[4079.8,-24.5],[4081.4,-11.6],[4083.1,8.8],[4084.7,9.9],[4086.3,1.3],[4087.9,-5.2],
  [4089.3,-11.6],[4090.8,-12.7],[4092.2,-17],[4093.9,1.3],[4095.5,-4],[4097.1,6.7],[4098.7,15.2],[4100.3,17.4],[4101.9,1.3],[4103.5,-23.4],
  [4104.9,-32],[4106.2,-19],[4107.9,-11.6],[4109.5,9.9],[4110.9,20.2],[4112.7,16.3],[4114.3,13],[4116,13],[4117.6,4.5],[4119.2,6.7],
  [4120.8,8.8],[4122.5,12],[4123.8,22.7],[4125.4,14.2],[4127.3,8.8],[4129.2,11],[4130.7,16.3],[4132.5,13],[4134,12],[4135.7,-4],
  [4137,12],[4138.6,-1],[4140.2,-5.2],[4141.8,-3],[4144,15.2],[4145.6,14.2],[4147.2,13],[4148.9,11],[4150.5,11],[4152.1,3.4],
  [4153.7,-16],[4155.3,-35],[4156.4,-52],[4158,-75],[4159.5,-60],[4160.2,-50],[4161.8,-11.6],[4163.8,15.2],[4164.8,15.2],[4166.4,7.7],
  [4168,4.5],[4169.7,8.8],[4171.3,14.2],[4172.9,18.9],[4174.7,22.7],[4175.6,21],[4176.7,11],[4178,8.8],[4178.8,1.7],[4179.9,-5.2],
  [4181.2,-13.7],[4182.1,-18],[4183.4,-7.3],[4184.8,14.2],[4186.4,22.7],[4188,17.4],[4189.4,17.4],[4190.7,21.7],[4191.8,22.7],[4193.1,12],
  [4194.5,.2],[4196.1,8.8],[4197.7,12],[4199.4,13],[4201.5,17.4],[4203.1,18],[4204.8,19.5],[4206.4,18.5],[4208,16.3],[4209.6,18.5],
  [4211.2,8.8],[4212.9,-2],[4214.5,12],[4216.1,24.9],[4217.7,16.3],[4219,6.7],[4221,21.7],[4222.6,21],[4224,23.8],[4225.3,19.5],
  [4226.6,8.8],[4228.5,-3],[4230.1,-7.3],[4231.7,14.2],[4233.3,28],[4234.8,29.6],[4236.1,22.7],[4237.4,.2],[4238.2,-22.3],[4239.1,-27.7],
  [4240.4,-18],[4241.7,-7.3],[4243.1,3.4],[4244.2,6.7],[4245.2,-11.6],[4246.6,-7.3],[4247.9,-26.6],[4248.8,-43.8],[4249.5,-60],[4250.6,-50],
  [4251.7,-1],[4252.8,4.5],[4254.4,8.8],[4256,20.6],[4257.7,17.4],[4259.3,16.3],[4260.9,19.5],[4262,22.3],[4263.6,17.4],[4265.2,13],
  [4266.8,5.6],[4267.9,-1],[4269.3,7.7],[4270.6,20.6],[4271.9,27],[4273,19.5],[4274.4,14.2],[4275.2,17.4],[4276.6,7.7],[4278,-16],
  [4278.7,-26.6],[4279.8,-1],[4280.9,5.6],[4282.5,11],[4284.1,17.4],[4285.5,21.7],[4286.8,21],[4288.4,29.2],[4290,34.6],[4291.7,24.9],
  [4293.1,7.7],[4294.4,13],[4295.7,7.7],[4297.1,-10.5],[4298.7,-1],[4300.3,24.9],[4301.7,28],[4303,29.2],[4305.2,17.4],[4306.8,29.2],
  [4308.2,36.7],[4309.5,33.5],[4310.8,14.2],[4312.2,8.8],[4313.8,6.7],[4315.1,-9.4],[4315.9,-43.8],[4317,-35],[4317.9,-31],[4318.6,-55],
  [4319.5,-65],[4320.2,-55],[4321.3,-13.7],[4322.9,-9.4],[4324.5,3.4],[4326.1,18.5],[4327.7,13],[4329.4,-7.3],[4331,-13.7],[4332.1,-10.5],
  [4332.7,-14.8],[4334,-28.8],[4335.4,-16],[4336.8,5.6],[4338.1,20.6],[4339.4,29.2],[4340.8,37.8],[4341.9,27],[4342.9,5.6],[4344.1,-4],
  [4345.5,-5.2],[4346.8,-3],[4347.8,-1],[4349.1,-5.2],[4350.5,-13.7],[4352.2,-21],[4353.8,-26.6],[4355.2,-31],[4356.5,-25.5],[4358.1,-21],
  [4359.7,-22.3],[4361.3,-18],[4362.4,-20.2],[4364,-7.3],[4365.7,2.4],[4367.3,12],[4368.9,19.5],[4370.5,18.5],[4371.6,7.7],[4372.9,-13.7],
  [4374.3,-22.3],[4375.9,-38.4],[4377.2,-40.6],[4378.6,-28.8],[4379.9,-13.7],[4381.3,-1],[4382.9,-1],[4384.3,-10.5],[4385.6,-3],[4387.3,5.6],
  [4388.7,14.2],[4390,24.9],[4391.6,30.3],[4393,36.7],[4394.5,40.3],[4395.9,32.4],[4397.3,24.9],[4398.6,27],[4399.9,29.6],[4401.3,26],
  [4402.7,18.5],[4404,14.2],[4405.3,8.8],[4406.7,-7.3],[4407.5,-14.8],[4408.3,-3],[4410,19.5],[4411.3,20.6],[4412.4,18.5],[4413.9,23.8],
  [4415.3,15.2],[4416.9,21.7],[4418.6,17.4],[4420,11],[4421.5,24.9],[4422.9,29.6],[4424.3,26],[4426.1,27],[4427.8,24.9],[4429.4,28],
  [4431,30.3],[4432.6,27],[4434.8,19.5],[4436.4,9.9],[4438.1,5.6],[4439.6,.2],[4441.3,27],[4443,36],[4444.6,34.6],[4446,27],
  [4447.3,21.7],[4448.9,21.7],[4450.5,19.5],[4451.5,11],[4452.8,3.4],[4454.2,-9.4],[4455.3,-1],[4456.9,7.7],[4458.5,9.9],[4459.9,18.5],
  [4461.4,14.2],[4462.8,2.4],[4464.2,-9.4],[4465.8,1.3],[4467.2,16.3],[4468.8,24.9],[4469.9,33.5],[4471.2,24.9],[4472.6,9.9],[4474.2,-1],
  [4475.8,-4],[4477.4,2.4],[4479.1,11],[4480.7,14.2],[4482.3,14.2],[4483.7,7.7],[4485,-2],[4486.3,-3],[4487.7,13],[4489.1,13],
  [4490.4,8.8],[4492,4.5],[4493.7,4.5],[4495.2,20.6],[4496.9,12],[4498.6,8.8],[4500,8.8]
];

const percentError45 = [
  [4000,6],[4001.6,3],[4002.7,2],[4004.9,11],[4006.5,-7],[4008.1,-18],[4008.8,-19],[4010.8,-2],[4012.4,1],[4014,0],
  [4015.6,2],[4017,7],[4018.3,2],[4020,-15],[4021,-18],[4022.7,-9],[4024.3,0],[4025.9,-2],[4028,-4],[4029.1,-15],
  [4030.7,6],[4031.8,16],[4033.4,9],[4034.5,0],[4036.9,9],[4038.3,4],[4039.7,-2],[4041,-13],[4042.6,-9],[4044.4,7],
  [4046.9,-17],[4049.1,1],[4050.7,-6],[4052.3,-20],[4052.9,-25],[4055,0],[4056.6,4],[4059.5,-2],[4061.5,12],[4063.1,17],
  [4064.7,9],[4066.3,-2],[4068.5,5],[4070.1,9],[4071.7,15],[4073.3,-6],[4074.6,-30],[4076.8,2],[4078.2,-8],[4079.6,-14],
  [4081.9,-18],[4083.6,2],[4085.2,-6],[4086.8,-2],[4089,-6],[4091.7,-19],[4093.3,-11],[4095.5,-6],[4097.6,5],[4099.2,14],
  [4100.9,21],[4103,1],[4105.2,-25],[4106.8,-24],[4109,-1],[4110.9,19],[4113.1,12],[4114.9,10],[4118.1,2],[4120.3,6],
  [4122.5,8],[4124.1,17],[4125.7,9],[4127.9,6],[4130.5,10],[4133.2,13],[4134.3,10],[4135.9,-6],[4137.5,2],[4139.1,-3],
  [4141.3,-5],[4144,14],[4146.2,13],[4148.3,10],[4150.5,7],[4152.1,-4],[4154.3,-25],[4155.9,-48],[4157.5,-72],[4159,-62],
  [4159.7,-50],[4161.8,-14],[4164,9],[4165.9,6],[4168,3],[4171.3,11],[4173.4,19],[4175.6,8],[4177.7,8],[4179.9,1],
  [4181.5,-2],[4182.9,-17],[4184.8,10],[4186.4,23],[4188,18],[4189.4,13],[4191.3,21],[4192.9,16],[4194.5,-1],[4196.1,8],
  [4197.7,13],[4199.4,10],[4201.5,13],[4204.2,19],[4207.5,14],[4210.2,13],[4212.9,-2],[4214.5,10],[4216.4,24],[4218.8,8],
  [4221,19],[4223.1,11],[4225.8,21],[4227.4,12],[4229,-2],[4230.1,-4],[4231.7,9],[4233.9,25],[4235.5,17],[4237.1,0],
  [4238.8,-5],[4240.4,-11],[4242.5,-20],[4244.2,-24],[4245.2,-23],[4246.9,-7],[4248.2,-24],[4249.3,-40],[4250.6,-32],[4252.2,-4],
  [4253.9,5],[4254.9,6],[4257.1,12],[4259.3,10],[4260.9,15],[4262,23],[4264.2,16],[4266.3,3],[4267.9,-3],[4269.5,7],
  [4271.1,18],[4272.8,9],[4274.9,20],[4276.6,6],[4278.7,-24],[4280.3,-8],[4281.9,3],[4284.1,16],[4285.7,19],[4286.8,16],
  [4288.4,24],[4289.8,32],[4291.1,22],[4293.1,3],[4294.4,10],[4295.7,8],[4297.4,-5],[4299.2,6],[4300.3,22],[4301.9,30],
  [4303.5,24],[4305.2,17],[4306.8,27],[4308.4,34],[4309.5,30],[4311.1,10],[4313,5],[4314.4,-3],[4316,-22],[4317,-48],
  [4318.5,-62],[4319.5,-50],[4320.8,-28],[4322.5,-14],[4324.1,-5],[4325.7,4],[4327,14],[4328.4,-2],[4330,-17],[4332,-14],
  [4334,-30],[4335.1,-32],[4336.5,-10],[4338.1,17],[4339.4,29],[4340.5,38],[4341.6,33],[4342.9,14],[4344.4,-4],[4345.7,-12],
  [4347,-14],[4348.4,-15],[4350,-20],[4351.6,-9],[4352.7,-10],[4353.8,-20],[4355.4,-36],[4357,-52],[4358.6,-32],[4360.3,-20],
  [4361.3,-14],[4362.7,-18],[4364.3,-8],[4365.7,-1],[4367.3,8],[4369.2,16],[4370.7,10],[4372.1,-2],[4373.5,-14],[4375.1,-20],
  [4376.5,-20],[4378.1,-28],[4379.9,-38],[4381.1,-30],[4382.2,-3],[4383.5,3],[4385.1,7],[4386.5,6],[4387.8,6],[4389.4,14],
  [4391,25],[4392.7,32],[4394.3,39],[4395.9,31],[4397.5,23],[4399.1,28],[4400.2,27],[4401.8,15],[4403.1,12],[4404.5,12],
  [4406.2,4],[4408.1,-3],[4409.6,5],[4411,13],[4413.2,14],[4414.8,14],[4416.4,22],[4418.1,19],[4419.7,13],[4421.1,13],
  [4422.9,26],[4424.6,26],[4426.1,25],[4427.8,23],[4429.4,26],[4431,29],[4432.6,26],[4434.8,18],[4436.9,9],[4439.6,1],
  [4441.3,24],[4443,36],[4444.6,34],[4446.2,27],[4447.8,20],[4449.5,18],[4451.1,13],[4452.7,3],[4454,0],[4455.3,8],
  [4456.9,17],[4458.3,14],[4459.4,6],[4460.8,7],[4462.3,-1],[4464,-10],[4465.3,-5],[4466.7,8],[4468.3,19],[4469.7,28],
  [4471,19],[4472.6,6],[4474.2,-2],[4476.9,-5],[4478.6,-3],[4479.8,2],[4481.8,14],[4482.8,13],[4484.4,2],[4486.6,-8],
  [4488.2,0],[4490.4,13],[4492,9],[4493.7,5],[4495.2,14],[4496.9,8],[4498.2,10],[4500,12]
];

const percentError60 = [
  [4000,3.4],[4001.6,-.4],[4002.7,-1],[4004.9,7.7],[4006.5,-9.4],[4008.1,-21],[4008.8,-22],[4010.8,-5.2],[4012.4,-2],[4014,-3],
  [4015.6,-1],[4017,3.9],[4018.3,-1],[4020,-17],[4021,-21],[4022.7,-11.6],[4024.3,-3],[4025.9,-5.2],[4028,-7.3],[4029.1,-17.6],
  [4030.7,2.4],[4031.8,13],[4033.4,5.6],[4034.5,-3],[4036.9,5.6],[4038.3,1.3],[4039.7,-5.2],[4041,-16],[4042.6,-11.6],[4044.4,4.5],
  [4046.9,-20],[4049.1,-2],[4050.7,-9.4],[4052.3,-25.5],[4052.9,-32],[4055,-3],[4056.6,1.3],[4059.5,-5.2],[4061.5,9.9],[4063.1,15.9],
  [4064.7,6.7],[4066.3,-5.2],[4068.5,2.4],[4070.1,6],[4071.7,12.4],[4073.3,-9.4],[4074.6,-34],[4076.8,-1],[4078.2,-11.6],[4079.6,-17.6],
  [4081.9,-23.4],[4083.6,-1],[4085.2,-9.4],[4086.8,-5.2],[4089,-9.4],[4091.7,-22.3],[4093.3,-14.8],[4095.5,-9.4],[4097.6,2.4],[4099.2,11],
  [4100.9,18.5],[4103,-1],[4105.2,-27.7],[4106.8,-28.8],[4109,-4],[4110.9,16.7],[4113.1,8.8],[4114.9,7.3],[4118.1,-.4],[4120.3,3.4],
  [4122.5,5.6],[4124.1,13],[4125.7,6.7],[4127.9,3.4],[4130.5,6.7],[4133.2,10.3],[4134.3,7.7],[4135.9,-9.4],[4137.5,-2],[4139.1,-6.2],
  [4141.3,-8.4],[4144,11],[4146.2,11],[4148.3,7.7],[4150.5,4.5],[4152.1,-7.3],[4154.3,-28.8],[4155.9,-52],[4157.5,-75],[4159,-65],
  [4159.7,-52],[4161.8,-18],[4164,5.6],[4165.9,3],[4168,.9],[4171.3,8.8],[4173.4,17.4],[4175.6,5.6],[4177.7,5.6],[4179.9,-1],
  [4181.5,-4],[4182.9,-20.2],[4184.8,7.7],[4186.4,21.7],[4188,16.3],[4189.4,10.3],[4191.3,19.5],[4192.9,14.2],[4194.5,-3],[4196.1,5.6],
  [4197.7,11],[4199.4,7.7],[4201.5,11],[4204.2,16.7],[4207.5,12],[4210.2,11],[4212.9,-4],[4214.5,7.7],[4216.4,22.7],[4218.8,5.6],
  [4221,17.4],[4223.1,8.2],[4225.8,19.5],[4227.4,9.9],[4229,-4],[4230.1,-6.2],[4231.7,6.7],[4233.9,22.7],[4235.5,14.2],[4237.1,-2],
  [4238.8,-7.3],[4240.4,-13.7],[4242.5,-24.5],[4244.2,-29.8],[4245.2,-28.8],[4246.9,-7.3],[4248.2,-24.5],[4249.3,-42.7],[4250.6,-35],[4252.2,-7.3],
  [4253.9,2.4],[4254.9,3.4],[4257.1,9.9],[4259.3,7.7],[4260.9,13],[4262,21.7],[4264.2,14.2],[4266.3,1.3],[4267.9,-5.2],[4269.5,4.5],
  [4271.1,15.2],[4272.8,6.7],[4274.9,17.4],[4276.6,3.4],[4278.7,-27.7],[4280.3,-11.6],[4281.9,.2],[4284.1,14.2],[4285.7,17.4],[4286.8,14.2],
  [4288.4,21.7],[4289.8,29.2],[4291.1,19.5],[4293.1,.2],[4294.4,7.7],[4295.7,5.6],[4297.4,-7.3],[4299.2,3.4],[4300.3,19.5],[4301.9,28.8],
  [4303.5,21.7],[4305.2,15.2],[4306.8,23.8],[4308.4,31.8],[4309.5,27],[4311.1,7.7],[4313,2.4],[4314.4,-5.2],[4316,-24.5],[4317,-52],
  [4318.5,-65],[4319.5,-52],[4320.8,-33],[4322.5,-18],[4324.1,-8.4],[4325.7,1.3],[4327,11],[4328.4,-5.2],[4330,-21],[4332,-18],
  [4334,-33],[4335.1,-35],[4336.5,-13.7],[4338.1,14.2],[4339.4,26],[4340.5,35.6],[4341.6,31.3],[4342.9,12],[4344.4,-7.3],[4345.7,-17],
  [4347,-19],[4348.4,-20.2],[4350,-25.5],[4351.6,-11.6],[4352.7,-9.4],[4353.8,-21],[4355.4,-37.3],[4357,-55],[4358.6,-35],[4360.3,-22.3],
  [4361.3,-17],[4362.7,-21],[4364.3,-11.6],[4365.7,-4],[4367.3,5.6],[4369.2,12],[4370.7,7.7],[4372.1,-5.2],[4373.5,-17],[4375.1,-24.5],
  [4376.5,-24.5],[4378.1,-33],[4379.9,-47],[4381.1,-37.3],[4382.2,-5.2],[4383.5,1.3],[4385.1,4.5],[4386.5,4.5],[4387.8,3.4],[4389.4,11],
  [4391,21.7],[4392.7,29.2],[4394.3,37.3],[4395.9,29.2],[4397.5,21.7],[4399.1,27],[4400.2,26],[4401.8,12],[4403.1,8.2],[4404.5,11],
  [4406.2,3.4],[4408.1,-4.7],[4409.6,2.4],[4411,11],[4413.2,11],[4414.8,11.6],[4416.4,19.5],[4418.1,16.3],[4419.7,11],[4421.1,9.9],
  [4422.9,23.2],[4424.6,24.5],[4426.1,22.7],[4427.8,20.2],[4429.4,23.2],[4431,27],[4432.6,23.8],[4434.8,15.2],[4436.9,7.7],[4439.6,.2],
  [4441.3,20.6],[4443,35.6],[4444.6,32.4],[4446.2,24.9],[4447.8,17.4],[4449.5,15.2],[4451.1,11],[4452.7,1.3],[4454,-2],[4455.3,5.6],
  [4456.9,15.2],[4458.3,12],[4459.4,3.4],[4460.8,4.5],[4462.3,-3],[4464,-11.6],[4465.3,-7.3],[4466.7,5.6],[4468.3,16.3],[4469.7,23.8],
  [4471,15.2],[4472.6,3.4],[4474.2,-4],[4476.9,-7.3],[4478.6,-5.2],[4479.8,-1],[4481.8,12],[4482.8,11],[4484.4,-1],[4486.6,-11.6],
  [4488.2,-3],[4490.4,11],[4492,7.7],[4493.7,2.4],[4495.2,11],[4496.9,5.6],[4498.2,4.5],[4500,8.8]
];

const wavelengthTicks = [4000, 4050, 4100, 4150, 4200, 4250, 4300, 4350, 4400, 4450, 4500];
const fluxTicks = [-1.0, -0.5, 0.0, 0.5, 1.0, 1.5, 2.0];
const errorTicks = [-50, 0, 50];
const artifactBands = [[4154, 4164]];
const windBands = [[4100, 4106], [4338, 4345]];

const FONT = 'DejaVu Sans';
const minus = v => (v < 0 ? '\u2212' : '') + Math.abs(v);

const toXY = arr => arr.map(([x, y]) => ({ x, y }));

const spanPlugin = {
  id: 'spans',
  beforeDatasetsDraw(chart) {
    const { ctx, chartArea: a, scales: { x } } = chart;
    const draw = (bands, color, edge) => bands.forEach(([from, to]) => {
      const x0 = x.getPixelForValue(from), x1 = x.getPixelForValue(to);
      ctx.fillStyle = color;
      ctx.fillRect(x0, a.top, x1 - x0, a.bottom - a.top);
      ctx.strokeStyle = edge;
      ctx.lineWidth = 3;
      ctx.strokeRect(x0, a.top, x1 - x0, a.bottom - a.top);
    });
    ctx.save();
    draw(windBands, 'rgba(255,127,14,0.15)', 'rgba(255,127,14,0.15)');
    draw(artifactBands, 'rgba(150,40,50,0.18)', 'rgba(150,40,50,0.16)');
    ctx.restore();
  }
};

const framePlugin = {
  id: 'frame',
  afterDatasetsDraw(chart) {
    const { ctx, chartArea: a } = chart;
    ctx.save();
    ctx.strokeStyle = '#000';
    ctx.lineWidth = 2.5;
    ctx.strokeRect(a.left, a.top, a.right - a.left, a.bottom - a.top);
    ctx.restore();
  }
};

function xAxis() {
  return {
    type: 'linear', min: 4000, max: 4500,
    afterBuildTicks: s => { s.ticks = wavelengthTicks.map(value => ({ value })); },
    afterFit: s => { s.height = 70; },
    grid: { drawOnChartArea: false, drawTicks: true, tickLength: 10, color: '#000', lineWidth: 2 },
    border: { display: false },
    ticks: { color: '#000', padding: 4, maxRotation: 0, font: { family: FONT, size: 42 }, callback: v => String(v) }
  };
}

function yAxis(min, max, ticks, fmt) {
  return {
    type: 'linear', min, max,
    afterBuildTicks: s => { s.ticks = ticks.map(value => ({ value })); },
    afterFit: s => { s.width = 237; },
    grid: { drawOnChartArea: false, drawTicks: true, tickLength: 10, color: '#000', lineWidth: 2 },
    border: { display: false },
    ticks: { color: '#000', padding: 12, font: { family: FONT, size: 42 }, callback: fmt }
  };
}

const line = (data, color, width, order) => ({
  data: toXY(data), borderColor: color, borderWidth: width, pointRadius: 0,
  fill: false, tension: 0, clip: 0, order, borderJoinStyle: 'round', borderCapStyle: 'round'
});

new Chart(document.getElementById('fluxChart'), {
  type: 'line',
  data: {
    datasets: [
      line(opticalSpectrum, '#ff0000', 5.5, 4),
      line(diskModel30, 'rgba(31,119,180,0.88)', 5.5, 3),
      line(diskModel45, 'rgba(255,127,14,0.88)', 5.5, 2),
      line(diskModel60, 'rgba(44,160,44,0.88)', 5.5, 1)
    ]
  },
  options: {
    responsive: false, animation: false, devicePixelRatio: 1,
    layout: { padding: { top: 179, right: 77, left: 0, bottom: 0 } },
    plugins: { legend: { display: false }, tooltip: { enabled: false } },
    scales: {
      x: xAxis(),
      y: yAxis(-1.0, 2.3, fluxTicks, v => (v < 0 ? '\u2212' : '') + Math.abs(v).toFixed(1))
    }
  },
  plugins: [spanPlugin, framePlugin]
});

new Chart(document.getElementById('errChart'), {
  type: 'line',
  data: {
    datasets: [
      line(percentError30, '#1f77b4', 4, 3),
      line(percentError45, '#ff7f0e', 4, 2),
      line(percentError60, '#2ca02c', 4, 1),
      line([[4000, 0], [4500, 0]], '#000', 4, 0)
    ]
  },
  options: {
    responsive: false, animation: false, devicePixelRatio: 1,
    layout: { padding: { top: 34, right: 77, left: 0, bottom: 0 } },
    plugins: { legend: { display: false }, tooltip: { enabled: false } },
    scales: {
      x: xAxis(),
      y: yAxis(-50, 50, errorTicks, minus)
    }
  },
  plugins: [spanPlugin, framePlugin]
});
</script>
</body>
</html>
